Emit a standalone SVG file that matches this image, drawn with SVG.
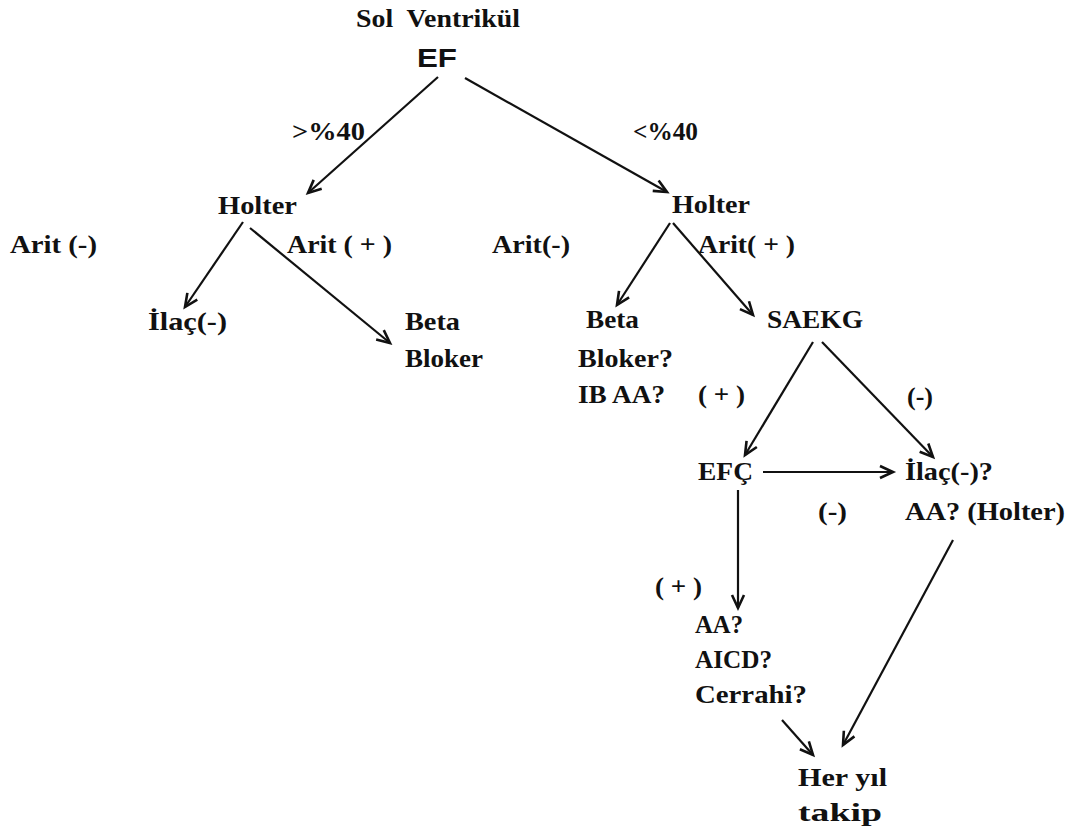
<svg xmlns="http://www.w3.org/2000/svg" width="1071" height="829" viewBox="0 0 1071 829">
<defs>
<style>
text{font-family:"Liberation Serif","Times New Roman",serif;font-weight:bold;font-size:25px;fill:#111}
.sans{font-family:"Liberation Sans",Arial,sans-serif}
.c line{stroke:#111;stroke-width:2.2;fill:none;marker-end:url(#ah)}
</style>
<marker id="ah" markerUnits="userSpaceOnUse" viewBox="-16 -10 20 20" markerWidth="20" markerHeight="20" refX="0" refY="0" orient="auto">
<path d="M-13,-6 L0,0 L-13,6" fill="none" stroke="#111" stroke-width="2.6" stroke-linejoin="miter"/>
</marker>
</defs>
<rect width="1071" height="829" fill="#fff"/>
<g class="c" id="connectors">
<line x1="438" y1="77" x2="308" y2="193"/>
<line x1="465" y1="78" x2="667" y2="192"/>
<line x1="243" y1="222" x2="185" y2="307"/>
<line x1="250" y1="228" x2="390" y2="343"/>
<line x1="670" y1="223" x2="617" y2="305"/>
<line x1="673" y1="223" x2="753" y2="315"/>
<line x1="813" y1="342" x2="745" y2="455"/>
<line x1="822" y1="342" x2="933" y2="457"/>
<line x1="763" y1="472" x2="893" y2="472"/>
<line x1="738" y1="490" x2="738" y2="608"/>
<line x1="953" y1="540" x2="843" y2="745"/>
<line x1="782" y1="720" x2="813" y2="755"/>
</g>
<g id="root"><text x="356" y="27" font-size="23" textLength="164" lengthAdjust="spacingAndGlyphs" style="white-space:pre">Sol  Ventrikül</text><text class="sans" x="417" y="67" font-size="23" textLength="40" lengthAdjust="spacingAndGlyphs">EF</text></g>
<g id="lbl-gt40"><text x="292" y="140" textLength="73" lengthAdjust="spacingAndGlyphs">&gt;%40</text></g>
<g id="lbl-lt40"><text x="633" y="140" textLength="65" lengthAdjust="spacingAndGlyphs">&lt;%40</text></g>
<g id="holter-left"><text x="218" y="214" textLength="79" lengthAdjust="spacingAndGlyphs">Holter</text></g>
<g id="holter-right"><text x="672" y="213" textLength="78" lengthAdjust="spacingAndGlyphs">Holter</text></g>
<g id="lbl-arit-neg-l"><text x="10" y="253" textLength="87" lengthAdjust="spacingAndGlyphs">Arit (-)</text></g>
<g id="lbl-arit-pos-l"><text x="287" y="253" textLength="105" lengthAdjust="spacingAndGlyphs">Arit ( + )</text></g>
<g id="lbl-arit-neg-r"><text x="492" y="253" textLength="78" lengthAdjust="spacingAndGlyphs">Arit(-)</text></g>
<g id="lbl-arit-pos-r"><text x="698" y="253" textLength="97" lengthAdjust="spacingAndGlyphs">Arit( + )</text></g>
<g id="ilac-left"><text x="148" y="330" textLength="79" lengthAdjust="spacingAndGlyphs">İlaç(-)</text></g>
<g id="beta-left"><text x="405" y="330" textLength="55" lengthAdjust="spacingAndGlyphs">Beta</text><text x="405" y="367" textLength="78" lengthAdjust="spacingAndGlyphs">Bloker</text></g>
<g id="beta-right"><text x="586" y="328" textLength="53" lengthAdjust="spacingAndGlyphs">Beta</text><text x="578" y="367" textLength="95" lengthAdjust="spacingAndGlyphs">Bloker?</text><text x="578" y="403" textLength="87" lengthAdjust="spacingAndGlyphs">IB AA?</text></g>
<g id="lbl-plus-1"><text x="698" y="403" textLength="47" lengthAdjust="spacingAndGlyphs">( + )</text></g>
<g id="saekg"><text x="767" y="328" textLength="96" lengthAdjust="spacingAndGlyphs">SAEKG</text></g>
<g id="lbl-neg-1"><text x="907" y="405" textLength="26" lengthAdjust="spacingAndGlyphs">(-)</text></g>
<g id="efc"><text x="698" y="480" textLength="55" lengthAdjust="spacingAndGlyphs">EFÇ</text></g>
<g id="ilac-right"><text x="905" y="480" textLength="88" lengthAdjust="spacingAndGlyphs">İlaç(-)?</text><text x="905" y="520" textLength="160" lengthAdjust="spacingAndGlyphs">AA? (Holter)</text></g>
<g id="lbl-neg-2"><text x="818" y="520" textLength="29" lengthAdjust="spacingAndGlyphs">(-)</text></g>
<g id="lbl-plus-2"><text x="655" y="595" textLength="47" lengthAdjust="spacingAndGlyphs">( + )</text></g>
<g id="aa-aicd"><text x="695" y="633" textLength="48" lengthAdjust="spacingAndGlyphs">AA?</text><text x="695" y="668" textLength="77" lengthAdjust="spacingAndGlyphs">AICD?</text><text x="695" y="703" textLength="112" lengthAdjust="spacingAndGlyphs">Cerrahi?</text></g>
<g id="her-yil"><text x="798" y="786" textLength="89" lengthAdjust="spacingAndGlyphs">Her yıl</text><text x="798" y="821" textLength="84" lengthAdjust="spacingAndGlyphs">takip</text></g>
</svg>
